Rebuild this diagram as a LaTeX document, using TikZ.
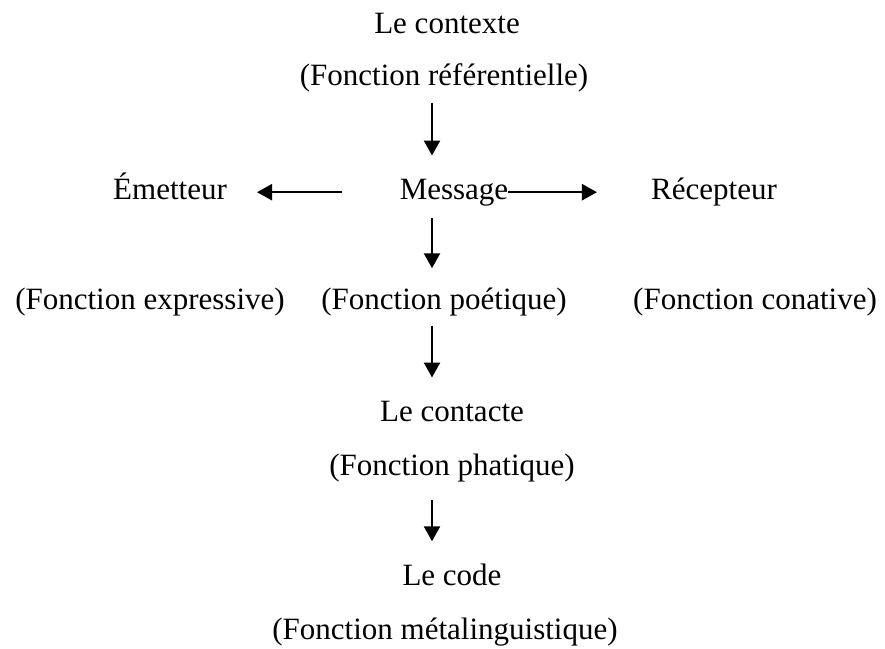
\documentclass[tikz,border=0pt]{standalone}
\usepackage{fontspec}
\setmainfont{Liberation Serif}
\usetikzlibrary{arrows.meta}

\begin{document}
\begin{tikzpicture}[
      x=1pt, y=-1pt,
      every node/.style={inner sep=0pt, anchor=base, font=\fontsize{31}{37}\selectfont},
      arr/.style={line width=2.4pt, -{Triangle[length=15pt,width=16pt]}}
    ]
      \useasboundingbox (0,0) rectangle (885,648);
      \coordinate (axis) at (432,0);
      % top
      \node (ctx) at (447,33) {Le contexte};
      \node (ref) at (444,85) {(Fonction référentielle)};
      % middle row
      \node (emt) at (170,199) {Émetteur};
      \node (msg) at (454,199) {Message};
      \node (rec) at (714,199) {Récepteur};
      \node (exp) at (150,309) {(Fonction expressive)};
      \node (poe) at (444,309) {(Fonction poétique)};
      \node (con) at (755,309) {(Fonction conative)};
      % bottom
      \node (cnt) at (452,421) {Le contacte};
      \node (pha) at (452,475) {(Fonction phatique)};
      \node (cod) at (452,585) {Le code};
      \node (met) at (445,639) {(Fonction métalinguistique)};
      % arrows
      \draw[arr, shorten <=11pt, shorten >=23pt] (ref.south -| axis) -- (msg.north -| axis);
      \draw[arr, shorten <=58pt, shorten >=30pt] (msg.west) -- (emt.east |- msg.west);
      \draw[arr, shorten >=54pt] (msg.east) -- (rec.west |- msg.east);
      \draw[arr, shorten <=12pt, shorten >=19pt] (msg.south -| axis) -- (poe.north -| axis);
      \draw[arr, shorten <=10pt, shorten >=23pt] (poe.south -| axis) -- (cnt.north -| axis);
      \draw[arr, shorten <=18pt, shorten >=22pt] (pha.south -| axis) -- (cod.north -| axis);
    \end{tikzpicture}
\end{document}
